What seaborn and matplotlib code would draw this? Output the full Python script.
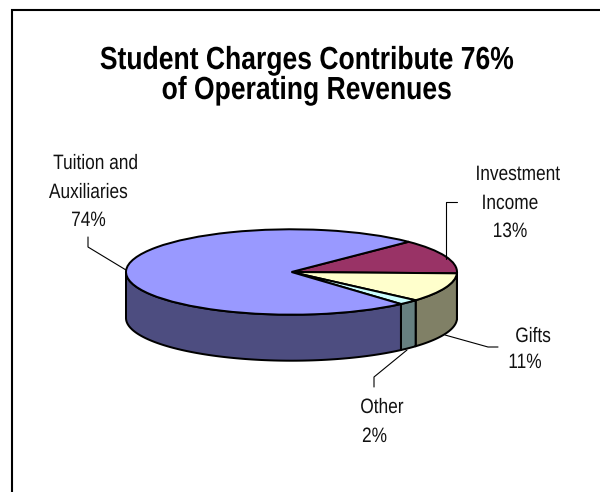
import numpy as np
import seaborn as sns
import matplotlib
matplotlib.use("Agg")
import matplotlib.pyplot as plt
from matplotlib.patches import Polygon
from matplotlib.patheffects import AbstractPathEffect
from matplotlib.transforms import Affine2D

sns.set_theme(style="white")
plt.rcParams["font.family"] = ["Liberation Sans", "DejaVu Sans"]

# Revenue shares, listed clockwise from the upper right of the disc
categories = ["Investment\nIncome", "Gifts", "Other", "Tuition and\nAuxiliaries"]
shares = [13, 11, 2, 74]
top_colors = ["#993366", "#FFFFCC", "#CCFFFF", "#9999FF"]
side_colors = ["#4D1A33", "#808066", "#668080", "#4D4D80"]
title_text = "Student Charges Contribute 76%\nof Operating Revenues"
start_angle = 45

W, H = 600, 492
CX, CY, RX, RY, DEPTH = 291.5, 272.0, 165.5, 42.7, 46.0
EDGE = 1.44


class Narrow(AbstractPathEffect):
    """Squeeze each line of text horizontally about its own centre."""

    def __init__(self, factor):
        super().__init__()
        self.factor = factor

    def draw_path(self, renderer, gc, tpath, affine, rgbFace=None):
        ext = tpath.get_extents()
        mid = (ext.x0 + ext.x1) / 2
        squeeze = Affine2D().translate(-mid, 0).scale(self.factor, 1).translate(mid, 0)
        renderer.draw_path(gc, tpath, squeeze + affine, rgbFace)


fig = plt.figure(figsize=(W / 100, H / 100), dpi=100, facecolor="white")

# Disc in unit coordinates, stretched by the axes limits into an ellipse
disc = fig.add_axes([0, 0, 1, 1], zorder=2)
disc.pie(shares, colors=top_colors, startangle=start_angle, counterclock=False,
         wedgeprops=dict(edgecolor="black", linewidth=EDGE))
disc.set_aspect("auto")
disc.set_xlim(-CX / RX, (W - CX) / RX)
disc.set_ylim((CY - H) / RY, CY / RY)
disc.patch.set_alpha(0)

# Rim: only the front half of each slice shows below the disc
drop = DEPTH / RY
angle = start_angle
for share, shade in zip(shares, side_colors):
    stop = angle - share * 3.6
    for offset in (0, -360):
        lo, hi = max(stop + offset, -180), min(angle + offset, 0)
        if hi > lo:
            t = np.radians(np.linspace(hi, lo, 120))
            upper = np.column_stack([np.cos(t), np.sin(t)])
            lower = upper[::-1] - [0, drop]
            disc.add_patch(Polygon(np.vstack([upper, lower]), closed=True,
                                   facecolor=shade, edgecolor="black",
                                   linewidth=EDGE, joinstyle="round", zorder=0.5))
    angle = stop

# Pixel-space overlay for the frame, captions and leader lines
over = fig.add_axes([0, 0, 1, 1], zorder=3)
over.set_xlim(0, W)
over.set_ylim(H, 0)
over.axis("off")
over.patch.set_alpha(0)

over.plot([12, 12, W], [H, 10, 10], color="black", lw=1.5,
          solid_capstyle="butt", solid_joinstyle="miter")

over.text(307, 76, title_text, ha="center", va="center", fontsize=23,
          fontweight="bold", color="black", linespacing=1.0,
          path_effects=[Narrow(0.83)])

invest_lines = categories[0].split("\n")
tuition_lines = categories[3].split("\n")
captions = [
    (518, 180, invest_lines[0]),
    (510, 209, invest_lines[1]),
    (510, 237, f"{shares[0]}%"),
    (533, 342, categories[1]),
    (525, 368, f"{shares[1]}%"),
    (382, 413, categories[2]),
    (374.5, 442, f"{shares[2]}%"),
    (96, 169, tuition_lines[0]),
    (88.5, 198, tuition_lines[1]),
    (88.5, 226, f"{shares[3]}%"),
]
for x, y, s in captions:
    over.text(x, y, s, ha="center", va="baseline", fontsize=15,
              color="#111111", path_effects=[Narrow(0.83)])

leaders = [
    ([457, 446, 446], [202, 202, 259]),
    ([445, 488, 498], [335, 347, 347]),
    ([407, 374, 374], [350, 377, 387]),
    ([126, 88, 88], [270, 247, 237]),
]
for xs, ys in leaders:
    over.plot(xs, ys, color="black", lw=0.8)

fig.savefig("out.png", dpi=100)
